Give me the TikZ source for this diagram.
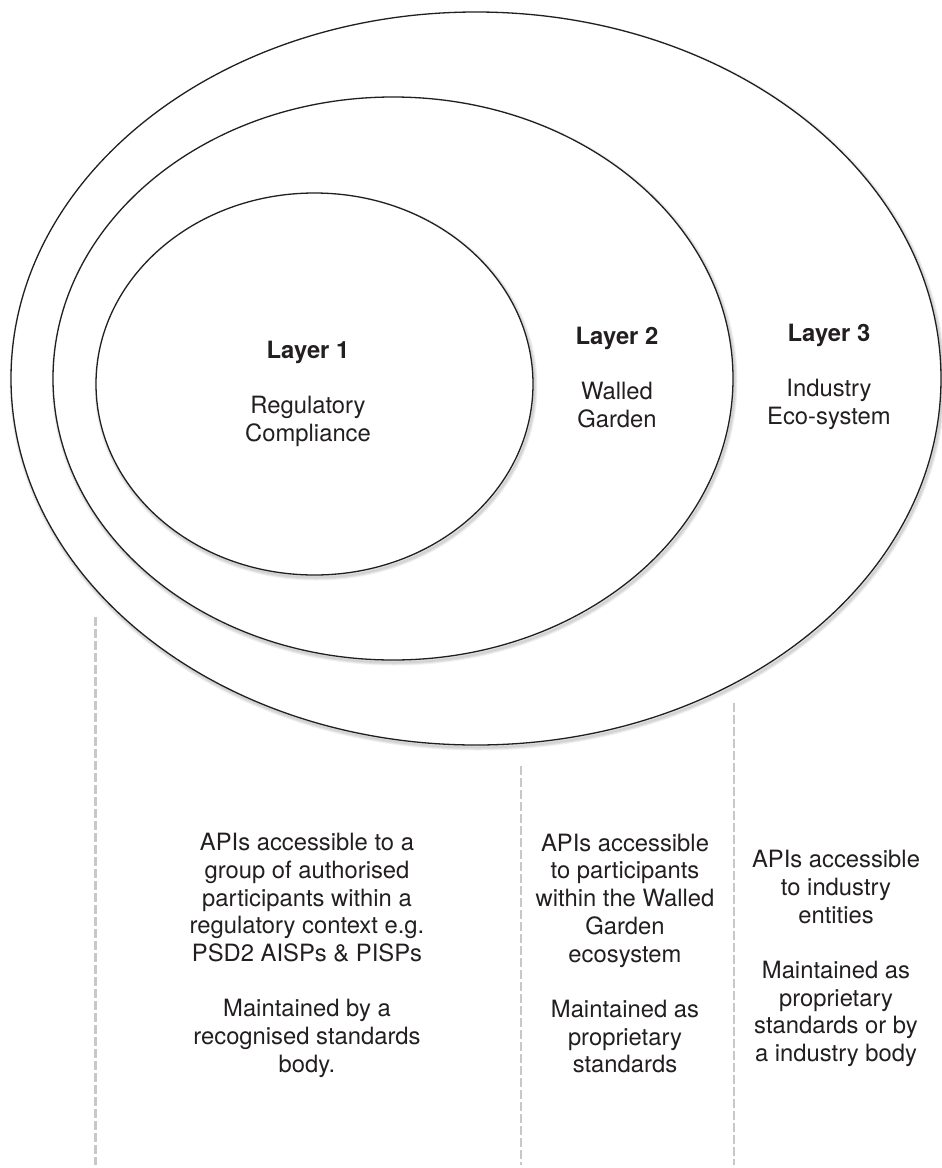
\documentclass[tikz,border=0pt]{standalone}
\usepackage{fontspec}
\setmainfont{TeX Gyre Heros}
\definecolor{ink}{HTML}{231F20}
\definecolor{guidegray}{HTML}{C8C8C8}
\begin{document}
\begin{tikzpicture}[x=0.5pt,y=-0.5pt,
  ring/.style={draw=ink, line width=0.65pt, fill=white},
  ringshade/.style={draw=black, opacity=0.06, line width=#1},
  guide/.style={draw=guidegray, line width=1.3pt, dash pattern=on 4.25pt off 1.75pt},
  txt/.style={align=center, text=ink, inner sep=0pt,
    font=\fontsize{11.9}{13.85}\selectfont}]
\useasboundingbox (0,0) rectangle (942,1168);
\fill[white] (0,0) rectangle (942,1168);

% outer ring: Layer 3
\foreach \w in {3pt,2pt,1pt}
  \draw[ringshade=\w] (477.5,381) ellipse [x radius=232.5pt, y radius=183.25pt];
\path[ring] (476,378.5) ellipse [x radius=232.5pt, y radius=183.25pt];

% middle ring: Layer 2
\foreach \w in {3pt,2pt,1pt}
  \draw[ringshade=\w] (394.5,381) ellipse [x radius=170pt, y radius=140.75pt];
\path[ring] (393,378.5) ellipse [x radius=170pt, y radius=140.75pt];

% inner ring: Layer 1
\foreach \w in {3pt,2pt,1pt}
  \draw[ringshade=\w] (316,386.5) ellipse [x radius=109.25pt, y radius=95.5pt];
\path[ring] (314.5,384) ellipse [x radius=109.25pt, y radius=95.5pt];

% layer titles
\node[txt] (l1) at (308,393.5) {\textbf{Layer 1}\\[13.85pt]Regulatory\\Compliance};
\node[txt] (l2) at (617,377.5) {\textbf{Layer 2}\\[13.85pt]Walled\\Garden};
\node[txt] (l3) at (829,376.5) {\textbf{Layer 3}\\[13.85pt]Industry\\Eco-system};

% column dividers
\coordinate (g1a) at (95.5,617);  \coordinate (g1b) at (95.5,1165);
\coordinate (g2a) at (521,766);   \coordinate (g2b) at (521,1165);
\coordinate (g3a) at (734,703);   \coordinate (g3b) at (734,1165);
\draw[guide] (g1a) -- (g1b);
\draw[guide] (g2a) -- (g2b);
\draw[guide] (g3a) -- (g3b);

% column descriptions
\node[txt] (d1) at (307,955.5) {APIs accessible to a\\group of authorised\\participants within a\\regulatory context e.g.\\PSD2 AISPs \& PISPs\\[13.85pt]Maintained by a\\recognised standards\\body.};
\node[txt] (d2) at (625,953.5) {APIs accessible\\to participants\\within the Walled\\Garden\\ecosystem\\[13.85pt]Maintained as\\proprietary\\standards};
\node[txt] (d3) at (836,958.5) {APIs accessible\\to industry\\entities\\[13.85pt]Maintained as\\proprietary\\standards or by\\a industry body};
\end{tikzpicture}
\end{document}
